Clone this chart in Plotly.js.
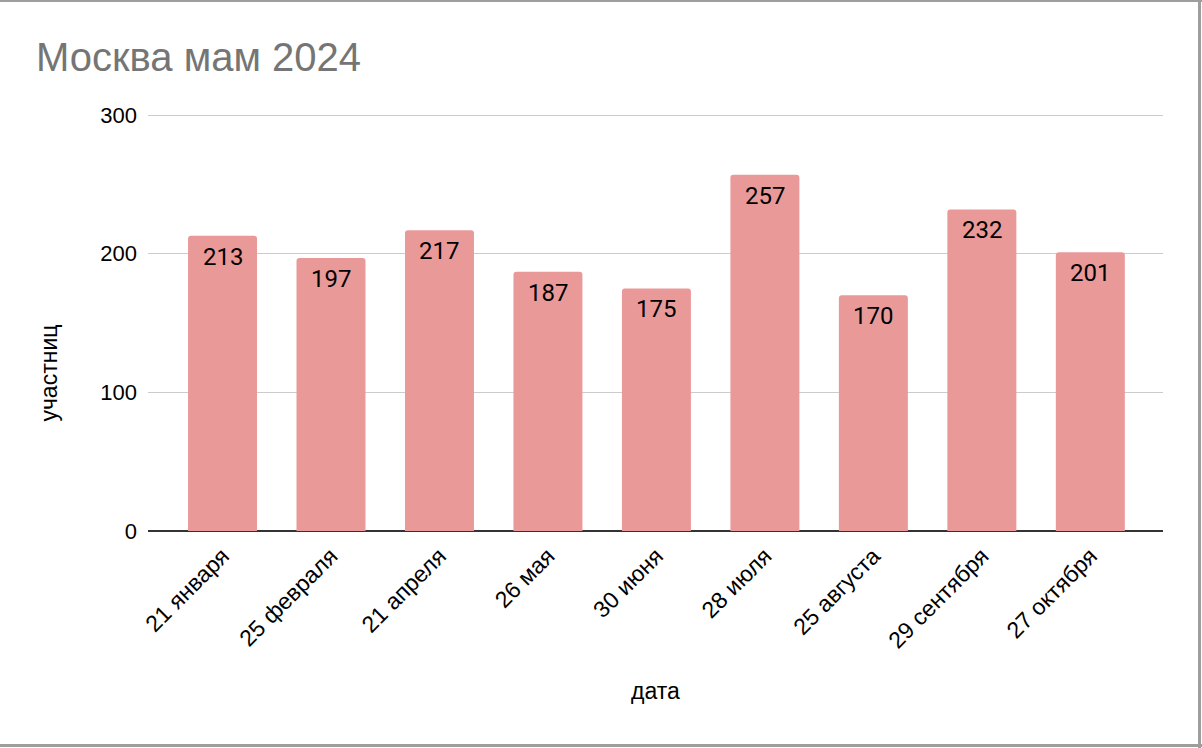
<!DOCTYPE html>
<html>
<head>
<meta charset="utf-8">
<script src="https://cdn.plot.ly/plotly-3.0.1.min.js"></script>
<style>
  html, body { margin: 0; padding: 0; background: #fff; }
  #wrap { position: relative; width: 1202px; height: 748px; overflow: hidden; }
  #chart { position: absolute; left: 0; top: 0; width: 1202px; height: 748px; }
  .b { position: absolute; background: #9e9e9e; }
</style>
</head>
<body>
<div id="wrap">
  <div id="chart"></div>
  <div class="b" style="left:0;top:0;width:1202px;height:2px;"></div>
  <div class="b" style="left:1198px;top:0;width:3px;height:748px;"></div>
  <div class="b" style="left:0;top:744px;width:1202px;height:3px;"></div>
</div>
<script>
const categories = ["21 января", "25 февраля", "21 апреля", "26 мая", "30 июня", "28 июля", "25 августа", "29 сентября", "27 октября"];
const participants = [213, 197, 217, 187, 175, 257, 170, 232, 201];
const yTickValues = [0, 100, 200, 300];
const chartTitle = "Москва мам 2024";
const xTitle = "дата";
const yTitle = "участниц";

const FONT = "Liberation Sans, Arial, sans-serif";

const trace = {
  type: "bar",
  x: categories,
  y: participants,
  marker: { color: "#EA9999", cornerradius: 3 },
  width: 0.636,
  hoverinfo: "x+y"
};

const annotations = categories.map((c, i) => ({
  x: c, y: participants[i], xref: "x", yref: "y",
  text: String(participants[i]),
  showarrow: false, yanchor: "top", yshift: -5,
  font: { family: "Roboto, Arial, sans-serif", size: 24, color: "#000" }
}));
annotations.push({
  text: yTitle, xref: "paper", yref: "paper",
  x: (49 - 148) / 1015, y: (531 - 374) / 416,
  xanchor: "center", yanchor: "middle", textangle: -90, showarrow: false,
  font: { family: FONT, size: 23, color: "#000" }
});

const layout = {
  width: 1202, height: 748,
  margin: { l: 148, r: 39, t: 114, b: 217 },
  paper_bgcolor: "#fff", plot_bgcolor: "#fff",
  showlegend: false,
  title: {
    text: chartTitle,
    x: 36 / 1202, xanchor: "left", xref: "container",
    y: 1 - 57 / 748, yanchor: "middle", yref: "container",
    font: { family: FONT, size: 40, color: "#757575" }
  },
  xaxis: {
    type: "category",
    range: [-0.687, 8.67],
    tickangle: -45,
    ticks: "",
    ticklabelstandoff: 6,
    showgrid: false,
    showline: false,
    zeroline: false,
    tickfont: { family: FONT, size: 23, color: "#000" },
    title: { text: xTitle, standoff: 30, font: { family: FONT, size: 23, color: "#000" } }
  },
  yaxis: {
    range: [0, 300.8],
    tickvals: yTickValues,
    ticktext: yTickValues.map(String),
    showgrid: true, gridcolor: "#cccccc", gridwidth: 1,
    zeroline: true, zerolinecolor: "#333333", zerolinewidth: 2,
    showline: false, ticks: "", ticklen: 0,
    ticklabelstandoff: 10,
    tickfont: { family: FONT, size: 22, color: "#000" }
  },
  annotations: annotations
};

Plotly.newPlot("chart", [trace], layout, { displayModeBar: false, staticPlot: true });
</script>
</body>
</html>
